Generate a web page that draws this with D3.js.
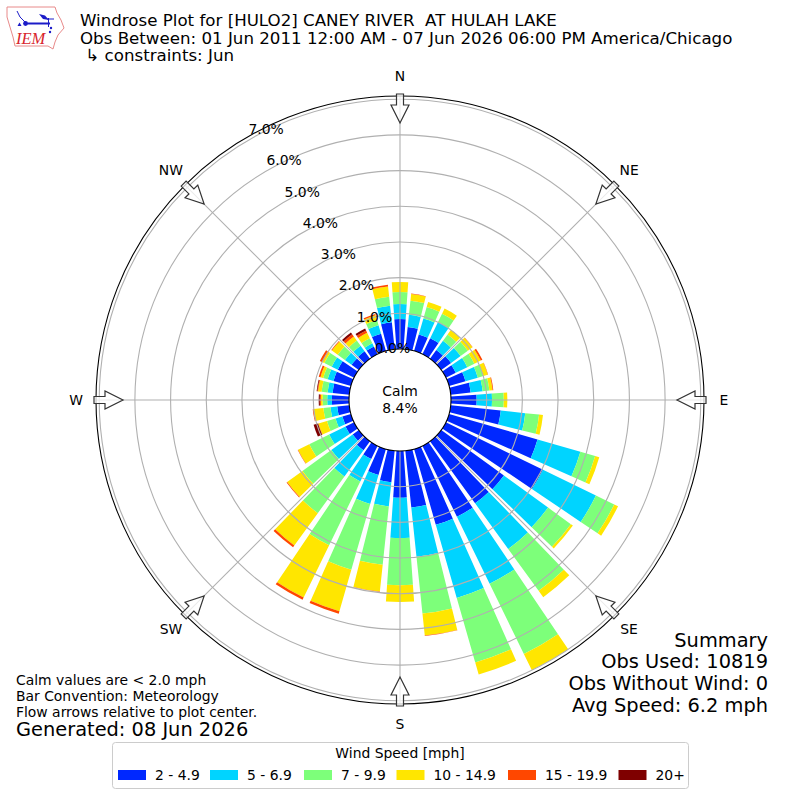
<!DOCTYPE html>
<html>
<head>
<meta charset="utf-8">
<script src="https://cdn.jsdelivr.net/npm/d3@7"></script>
<style>
  html, body { margin: 0; padding: 0; background: #fff; }
  text { font-family: "DejaVu Sans", sans-serif; fill: #000; }
</style>
</head>
<body>
<div id="chart"></div>
<script>
// wind direction bins, degrees from north
const directions = d3.range(0, 360, 10);
const speedBins = ['2 - 4.9', '5 - 6.9', '7 - 9.9', '10 - 14.9', '15 - 19.9', '20+'];
const binColors = ['#0028ff', '#00d4ff', '#7dff7a', '#ffe600', '#ff4700', '#7f0000'];

const bin2to5 = [0.84, 0.63, 0.48, 0.50, 0.30, 0.34, 0.31, 0.48, 0.56, 0.72, 1.41, 2.58, 3.03, 2.17, 2.15, 2.21, 2.21, 1.60,
                 1.31, 0.89, 0.76, 0.41, 0.31, 0.21, 0.27, 0.25, 0.34, 0.48, 0.47, 0.51, 0.51, 0.25, 0.26, 0.24, 0.50, 0.76];
const bin5to7 = [0.42, 0.34, 0.47, 0.50, 0.32, 0.33, 0.36, 0.36, 0.34, 0.43, 0.69, 1.25, 1.65, 1.53, 1.58, 2.09, 2.13, 1.39,
                 1.13, 0.68, 0.84, 0.70, 0.91, 0.74, 0.51, 0.20, 0.19, 0.13, 0.14, 0.17, 0.19, 0.23, 0.19, 0.10, 0.25, 0.47];
const bin7to10 = [0.34, 0.40, 0.33, 0.26, 0.22, 0.25, 0.22, 0.16, 0.19, 0.33, 0.39, 0.43, 0.57, 0.79, 1.45, 2.19, 1.88, 1.60,
                  1.32, 1.64, 1.92, 1.99, 1.27, 1.00, 0.62, 0.25, 0.20, 0.13, 0.17, 0.13, 0.23, 0.25, 0.18, 0.16, 0.15, 0.25];
const bin10to15 = [0.28, 0.19, 0.15, 0.16, 0.16, 0.16, 0.20, 0.13, 0.09, 0.10, 0.11, 0.12, 0.12, 0.07, 0.22, 0.51, 0.35, 0.62,
                   0.47, 0.76, 1.21, 1.63, 1.12, 0.53, 0.35, 0.25, 0.28, 0.05, 0.10, 0.08, 0.06, 0.20, 0.14, 0.17, 0.14, 0.29];
const bin15to20 = [0, 0.01, 0, 0, 0, 0.01, 0.05, 0.01, 0.02, 0, 0, 0, 0, 0, 0, 0, 0, 0.01,
                   0, 0.01, 0.07, 0.07, 0.06, 0.02, 0.01, 0.01, 0.02, 0.03, 0.02, 0.05, 0.08, 0.02, 0.08, 0.07, 0.04, 0.05];
const bin20up = [0, 0, 0, 0, 0, 0, 0, 0, 0, 0, 0, 0, 0, 0, 0, 0, 0, 0,
                 0, 0, 0, 0, 0, 0, 0, 0.13, 0, 0.03, 0.02, 0, 0, 0, 0.06, 0.06, 0, 0];
const allBins = [bin2to5, bin5to7, bin7to10, bin10to15, bin15to20, bin20up];

const radialTicks = [0, 1, 2, 3, 4, 5, 6, 7];
const compassNames = ['N', 'NE', 'E', 'SE', 'S', 'SW', 'W', 'NW'];
const compassAngles = [0, 45, 90, 135, 180, 225, 270, 315];

const titleLines = ['Windrose Plot for [HULO2] CANEY RIVER  AT HULAH LAKE',
                    'Obs Between: 01 Jun 2011 12:00 AM - 07 Jun 2026 06:00 PM America/Chicago',
                    '\u00a0\u21b3 constraints: Jun'];
const summaryLines = ['Summary', 'Obs Used: 10819', 'Obs Without Wind: 0', 'Avg Speed: 6.2 mph'];
const noteLines = ['Calm values are < 2.0 mph', 'Bar Convention: Meteorology', 'Flow arrows relative to plot center.'];

const width = 800, height = 800;
const cx = 400, cy = 400;
const barOpening = 8; // degrees, bars leave a 2 degree gap

const svg = d3.select('#chart').append('svg')
    .attr('width', width).attr('height', height)
    .style('display', 'block');

const r = d3.scaleLinear().domain([0, 7.09]).range([51, 304]);
const toRad = d => d * Math.PI / 180;

const plot = svg.append('g').attr('transform', `translate(${cx},${cy})`);

// bars, stacked outward
const arc = d3.arc();
directions.forEach((dir, i) => {
    let total = 0;
    allBins.forEach((bin, b) => {
        const v = bin[i];
        if (v <= 0) return;
        plot.append('path')
            .attr('fill', binColors[b])
            .attr('d', arc({
                innerRadius: r(total),
                outerRadius: r(total + v),
                startAngle: toRad(dir - barOpening / 2),
                endAngle: toRad(dir + barOpening / 2)
            }));
        total += v;
    });
});

// grid goes over the bars
compassAngles.forEach(a => {
    const rad = toRad(a);
    plot.append('line')
        .attr('x1', r(0) * Math.sin(rad)).attr('y1', -r(0) * Math.cos(rad))
        .attr('x2', r.range()[1] * Math.sin(rad)).attr('y2', -r.range()[1] * Math.cos(rad))
        .attr('stroke', '#b0b0b0').attr('stroke-width', 1.1);
});
radialTicks.slice(1).forEach(t => {
    plot.append('circle').attr('r', r(t))
        .attr('fill', 'none').attr('stroke', '#b0b0b0').attr('stroke-width', 1.1);
});

// center hole and outer rim
plot.append('circle').attr('r', r(0)).attr('fill', '#fff').attr('stroke', '#000').attr('stroke-width', 1.1);
plot.append('circle').attr('r', r.range()[1]).attr('fill', 'none').attr('stroke', '#000').attr('stroke-width', 1.1);

// flow arrows, pointing to the center
const arrowPath = 'M-3.5,-306 L3.5,-306 L3.5,-295 L9,-295 L0,-277 L-9,-295 L-3.5,-295 Z';
compassAngles.forEach(a => {
    plot.append('path')
        .attr('d', arrowPath)
        .attr('transform', `rotate(${a})`)
        .attr('fill', '#fff').attr('fill-opacity', 0.75)
        .attr('stroke', '#333').attr('stroke-width', 1.2);
});

// compass labels
compassNames.forEach((name, i) => {
    const rad = toRad(compassAngles[i]);
    plot.append('text')
        .attr('x', 324 * Math.sin(rad)).attr('y', -324 * Math.cos(rad) - 0.5)
        .attr('text-anchor', 'middle').attr('dominant-baseline', 'central')
        .style('font-size', '13.9px')
        .text(name);
});

// percent labels run out along 30 degrees from a shifted start
radialTicks.forEach(t => {
    const d = (r(t) - r(0)) * 1.012;
    plot.append('text')
        .attr('x', -7.5 - d * Math.sin(toRad(30)))
        .attr('y', -52 - d * Math.cos(toRad(30)))
        .attr('text-anchor', 'middle').attr('dominant-baseline', 'central')
        .style('font-size', '13.9px')
        .text(t.toFixed(1) + '%');
});

plot.append('text').attr('y', -9).attr('text-anchor', 'middle').attr('dominant-baseline', 'central')
    .style('font-size', '13.9px').text('Calm');
plot.append('text').attr('y', 8).attr('text-anchor', 'middle').attr('dominant-baseline', 'central')
    .style('font-size', '13.9px').text('8.4%');

// title block
titleLines.forEach((line, i) => {
    svg.append('text').attr('x', 80).attr('y', 26 + i * 17.6)
        .style('font-size', '16.67px').style('white-space', 'pre').attr('xml:space', 'preserve')
        .text(line);
});

// summary, lower right
summaryLines.forEach((line, i) => {
    svg.append('text').attr('x', 768).attr('y', 646.5 + i * 21.7)
        .attr('text-anchor', 'end').style('font-size', '19.4px')
        .text(line);
});

// notes, lower left
noteLines.forEach((line, i) => {
    svg.append('text').attr('x', 16).attr('y', 685 + i * 16.2)
        .style('font-size', '13.9px').text(line);
});
svg.append('text').attr('x', 16).attr('y', 735.5).style('font-size', '19.4px').text('Generated: 08 Jun 2026');

// legend
const legendSwatchX = [118, 210, 304, 396.5, 508, 618.5];
const legend = svg.append('g');
legend.append('rect').attr('x', 112.5).attr('y', 742.5).attr('width', 576).attr('height', 46)
    .attr('rx', 3).attr('fill', '#fff').attr('stroke', '#ccc');
legend.append('text').attr('x', 400).attr('y', 758).attr('text-anchor', 'middle')
    .style('font-size', '13.9px').text('Wind Speed [mph]');
speedBins.forEach((label, i) => {
    legend.append('rect').attr('x', legendSwatchX[i]).attr('y', 770).attr('width', 28).attr('height', 10)
        .attr('fill', binColors[i]);
    legend.append('text').attr('x', legendSwatchX[i] + 37).attr('y', 780)
        .style('font-size', '13.9px').text(label);
});

// IEM logo
const logo = svg.append('g');
logo.append('path')
    .attr('d', 'M7,7 L55,7 L57,13 L61,20 L64,28 L58,35 L55,42 L53,49 L48,46 L15,46 L13,37 L10,27 L7,17 Z')
    .attr('fill', '#fff').attr('stroke', '#e88a8a').attr('stroke-width', 1);
logo.append('path').attr('d', 'M26,23.5 L50,23.5').attr('stroke', '#1c1cc8').attr('stroke-width', 2).attr('fill', 'none');
logo.append('path').attr('d', 'M48.5,18 L48.5,27 M47,19 L54,19').attr('stroke', '#1c1cc8').attr('stroke-width', 1).attr('fill', 'none');
logo.append('path').attr('d', 'M39,14 L45,15.5 L49,20 L43,19 Z').attr('fill', '#1c1cc8');
logo.append('path').attr('d', 'M17,11 L20,17 L25,22').attr('stroke', '#1c1cc8').attr('stroke-width', 1).attr('fill', 'none');
logo.append('circle').attr('cx', 25.5).attr('cy', 23.5).attr('r', 2.4).attr('fill', '#1c1cc8');
logo.append('path').attr('d', 'M17.5,26 L19.5,22.5 L21.5,26 Z').attr('fill', '#1c1cc8');
logo.append('circle').attr('cx', 51).attr('cy', 28).attr('r', 1.2).attr('fill', '#1c1cc8');
logo.append('circle').attr('cx', 50).attr('cy', 32).attr('r', 1.2).attr('fill', '#1c1cc8');
logo.append('text').attr('x', 16).attr('y', 44)
    .style('font-family', '"Liberation Serif", serif').style('font-style', 'italic')
    .style('font-size', '16.5px').style('fill', '#d8242c').text('IEM');
</script>
</body>
</html>
